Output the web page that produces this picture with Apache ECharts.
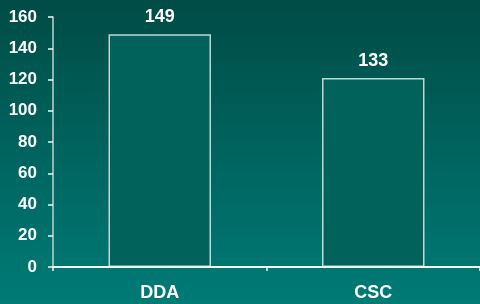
<!DOCTYPE html>
<html>
<head>
<meta charset="utf-8">
<script src="https://cdn.jsdelivr.net/npm/echarts@6/dist/echarts.min.js"></script>
<style>
  html, body { margin: 0; padding: 0; }
  #main { width: 480px; height: 304px; }
</style>
</head>
<body>
<div id="main"></div>
<script>
const categories = ["DDA", "CSC"];
const values = [149, 121];
const valueLabels = ["149", "133"];
const yTicks = [0, 20, 40, 60, 80, 100, 120, 140, 160];

const chart = echarts.init(document.getElementById("main"));

const option = {
  animation: false,
  backgroundColor: {
    type: "linear", x: 0, y: 0, x2: 0, y2: 1,
    colorStops: [
      { offset: 0, color: "#004c46" },
      { offset: 1, color: "#007b76" }
    ]
  },
  grid: { left: 53, right: 0, top: 17, bottom: 37 },
  xAxis: {
    type: "category",
    data: categories,
    axisLine: { lineStyle: { color: "#f2f7f6", width: 2 } },
    axisTick: { show: true, length: 4, lineStyle: { color: "#f2f7f6", width: 1.5 } },
    axisLabel: {
      color: "#ffffff",
      fontFamily: "Liberation Sans",
      fontWeight: "bold",
      fontSize: 18,
      margin: 17
    }
  },
  yAxis: {
    type: "value",
    min: yTicks[0],
    max: yTicks[yTicks.length - 1],
    interval: 20,
    axisLine: { show: true, lineStyle: { color: "#b9d6d3", width: 1.5 } },
    axisTick: { show: true, length: 5, lineStyle: { color: "#f2f7f6", width: 1.5 } },
    splitLine: { show: false },
    axisLabel: {
      color: "#ffffff",
      fontFamily: "Liberation Sans",
      fontWeight: "bold",
      fontSize: 17,
      margin: 16
    }
  },
  series: [{
    type: "bar",
    data: values,
    barWidth: "48%",
    itemStyle: {
      color: "#00625b",
      borderColor: "rgba(255,255,255,0.75)",
      borderWidth: 1.5
    },
    label: {
      show: true,
      position: "top",
      distance: 8,
      color: "#ffffff",
      fontFamily: "Liberation Sans",
      fontWeight: "bold",
      fontSize: 18,
      formatter: function (p) { return valueLabels[p.dataIndex]; }
    }
  }]
};

chart.setOption(option);
</script>
</body>
</html>
